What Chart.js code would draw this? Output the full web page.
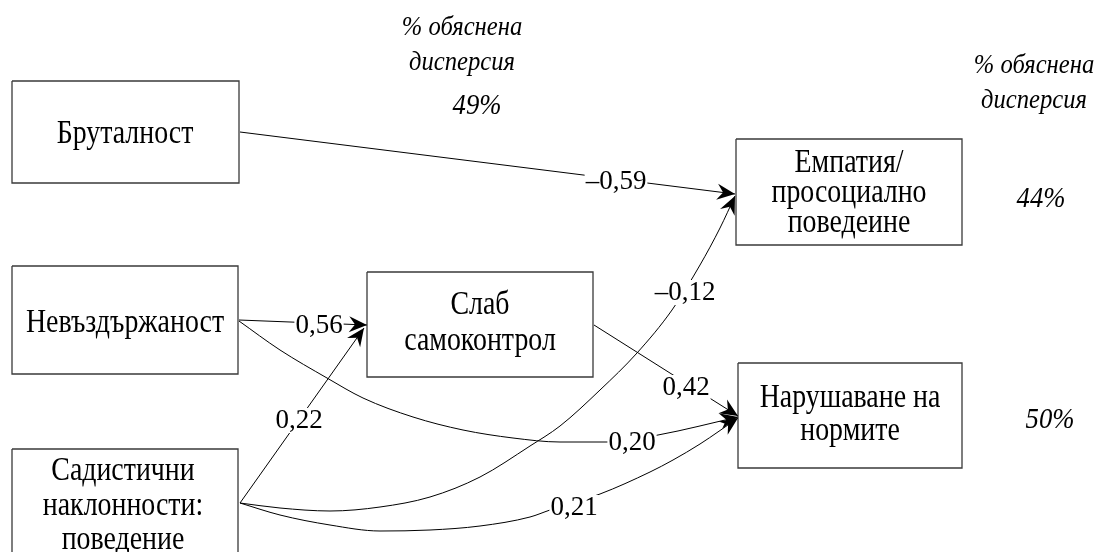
<!DOCTYPE html>
<html>
<head>
<meta charset="utf-8">
<script src="https://cdn.jsdelivr.net/npm/chart.js@4"></script>
<style>
  html, body { margin: 0; padding: 0; background: #fff; }
  #wrap { width: 1099px; height: 552px; }
</style>
</head>
<body>
<div id="wrap"><canvas id="path-chart"></canvas></div>
<script>
// variables of the path model (one entry per line of the box text)
const nodeLines = [
  ['Бруталност'],
  ['Невъздържаност'],
  ['Садистични', 'наклонности:', 'поведение'],
  ['Слаб', 'самоконтрол'],
  ['Емпатия/', 'просоциално', 'поведеине'],
  ['Нарушаване на', 'нормите']
];

// paths: edgeFrom[i] -> edgeTo[i] with coefficient edgeCoef[i]
const edgeFrom = [0, 1, 2, 3, 1, 2, 2];
const edgeTo   = [4, 3, 3, 5, 5, 4, 5];
const edgeCoef = [-0.59, 0.56, 0.22, 0.42, 0.20, -0.12, 0.21];

// explained variance (%) for the outcome variables
const varNode  = [3, 4, 5];
const varValue = [49, 44, 50];
const varHeading = ['% обяснена', 'дисперсия'];

// ---- layout (page pixels) ----
const boxes = [
  [12, 81, 239, 183],
  [12, 266, 238, 374],
  [12, 449, 238, 562],
  [367, 272, 593, 377],
  [736, 139, 962, 245],
  [738, 363, 962, 468]
];
const nodeBaselines = [[143], [332], [480, 515, 549], [314, 350], [172, 202, 232], [407, 440]];
const nodeCx = [125, 125, 123, 480, 849, 850];

// waypoints
const edgePaths = [
  [[240, 132], [735, 194]],
  [[239, 320], [367, 325]],
  [[240, 503], [364, 328]],
  [[594, 325], [738, 416]],
  [[239, 321], [280, 350], [327, 378], [363, 398], [413, 417], [463, 430], [513, 438], [560, 442], [608, 442], [658, 435], [738, 417]],
  [[240, 503], [280, 508], [330, 511], [380, 507], [430, 497], [480, 477], [530, 446], [560, 426], [600, 390], [637, 353], [672, 310], [700, 265], [720, 228], [735, 196]],
  [[240, 503], [280, 515], [330, 525], [380, 531], [430, 530], [480, 526], [530, 517], [550, 510], [600, 494], [650, 472], [673, 460], [700, 444], [738, 418]]
];
const edgeLabelPos = [[616, 189], [319, 333], [299, 428], [686, 395], [632, 450], [685, 300], [574, 515]];

const varHeadingPos = [[462, 35, 70], [1034, 73, 108]];
const varValuePos = [[477, 114], [1041, 207], [1050, 428]];

const SERIF = '"Liberation Serif", "Times New Roman", serif';

function fmtCoef(v) {
  const s = Math.abs(v).toFixed(2).replace('.', ',');
  return (v < 0 ? '–' : '') + s;
}

function drawText(ctx, str, cx, by, font, sx, bg) {
  ctx.save();
  ctx.font = font;
  const w = ctx.measureText(str).width * sx;
  if (bg) {
    ctx.fillStyle = '#fff';
    ctx.fillRect(cx - w / 2 - 1, by - 20, w + 2, 25);
  }
  ctx.translate(cx - w / 2, by);
  ctx.scale(sx, 1);
  ctx.fillStyle = '#000';
  ctx.textBaseline = 'alphabetic';
  ctx.fillText(str, 0, 0);
  ctx.restore();
}

function drawArrowHead(ctx, x0, y0, x1, y1) {
  const a = Math.atan2(y1 - y0, x1 - x0);
  const len = 18, half = 8, notch = 6;
  ctx.save();
  ctx.translate(x1, y1);
  ctx.rotate(a);
  ctx.beginPath();
  ctx.moveTo(0, 0);
  ctx.lineTo(-len, -half);
  ctx.lineTo(-len + notch, 0);
  ctx.lineTo(-len, half);
  ctx.closePath();
  ctx.fillStyle = '#000';
  ctx.fill();
  ctx.restore();
}

const diagramText = {
  id: 'diagramText',
  afterDatasetsDraw(chart) {
    const ctx = chart.ctx;
    const xs = chart.scales.x, ys = chart.scales.y;
    const px = v => xs.getPixelForValue(v);
    const py = v => ys.getPixelForValue(v);

    // arrow heads
    edgePaths.forEach(p => {
      const a = p[p.length - 2], b = p[p.length - 1];
      drawArrowHead(ctx, px(a[0]), py(a[1]), px(b[0]), py(b[1]));
    });

    // coefficients on the paths
    edgeCoef.forEach((c, i) => {
      const [lx, ly] = edgeLabelPos[i];
      drawText(ctx, fmtCoef(c), px(lx), py(ly), '27px ' + SERIF, 1, true);
    });

    // box texts
    nodeLines.forEach((lines, i) => {
      lines.forEach((t, j) => {
        drawText(ctx, t, px(nodeCx[i]), py(nodeBaselines[i][j]), '34px ' + SERIF, 0.82, false);
      });
    });

    // explained variance
    varHeadingPos.forEach(h => {
      drawText(ctx, varHeading[0], px(h[0]), py(h[1]), 'italic 28px ' + SERIF, 0.88, false);
      drawText(ctx, varHeading[1], px(h[0]), py(h[2]), 'italic 28px ' + SERIF, 0.88, false);
    });
    varValue.forEach((v, i) => {
      const [vx, vy] = varValuePos[i];
      drawText(ctx, v + '%', px(vx), py(vy), 'italic 29px ' + SERIF, 0.92, false);
    });
  }
};

const datasets = [];
boxes.forEach(b => {
  datasets.push({
    data: [
      { x: b[0], y: b[1] }, { x: b[2], y: b[1] }, { x: b[2], y: b[3] },
      { x: b[0], y: b[3] }, { x: b[0], y: b[1] }
    ],
    showLine: true,
    borderColor: '#3a3a3a',
    borderWidth: 1.3,
    pointRadius: 0,
    tension: 0
  });
});
edgePaths.forEach(p => {
  datasets.push({
    data: p.map(q => ({ x: q[0], y: q[1] })),
    showLine: true,
    borderColor: '#000',
    borderWidth: 1,
    pointRadius: 0,
    cubicInterpolationMode: p.length > 2 ? 'monotone' : 'default',
    tension: p.length > 2 ? 0.4 : 0
  });
});

new Chart(document.getElementById('path-chart'), {
  type: 'scatter',
  data: { datasets },
  options: {
    responsive: true,
    maintainAspectRatio: false,
    animation: false,
    events: [],
    layout: { padding: 0 },
    plugins: { legend: { display: false }, tooltip: { enabled: false } },
    scales: {
      x: { type: 'linear', min: 0, max: 1099, display: false },
      y: { type: 'linear', min: 0, max: 552, reverse: true, display: false }
    }
  },
  plugins: [diagramText]
});
</script>
</body>
</html>
